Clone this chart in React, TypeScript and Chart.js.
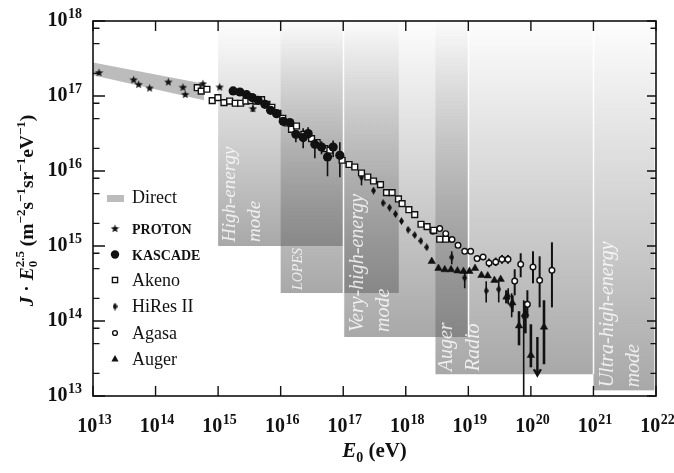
import React, { useEffect, useRef } from 'react';
import { Chart, registerables } from 'chart.js';

Chart.register(...registerables);

const SERIF = '"Liberation Serif", "DejaVu Serif", serif';

// ---- Cosmic-ray spectrum J·E0^2.5 versus primary energy E0 (eV) ----

// Band of direct (balloon / satellite) measurements
const directE = [1e13, 5.93e14];
const directUpper = [2.79e17, 1.46e17];
const directLower = [1.89e17, 8.77e16];

const protonE = [1.25e13, 4.47e13, 5.37e13, 8.05e13, 1.6e14, 2.74e14, 2.98e14, 5.71e14, 1.06e15, 3.6e15];
const protonJ = [2.05e17, 1.65e17, 1.43e17, 1.28e17, 1.54e17, 1.31e17, 1.05e17, 1.46e17, 1.32e17, 6.79e16];
const protonLo = [null, null, null, null, null, null, null, null, null, 6.1e16];
const protonHi = [null, null, null, null, null, null, null, null, null, 7.5e16];

const kascadeE = [1.74e15, 2.23e15, 2.85e15, 3.51e15, 4.37e15, 5.59e15, 6.9e15, 8.6e15, 1.1e16, 1.4e16, 1.75e16, 2.29e16, 2.75e16, 3.52e16, 4.5e16, 5.61e16, 6.9e16, 8.83e16];
const kascadeJ = [1.17e17, 1.13e17, 1.04e17, 9.52e16, 8.77e16, 7.75e16, 6.45e16, 5.82e16, 4.6e16, 4.42e16, 3.08e16, 2.79e16, 3.15e16, 2.27e16, 2.09e16, 1.54e16, 2.09e16, 1.62e16];
const kascadeLo = [null, null, null, null, null, null, null, null, null, null, 2.42e16, 2.01e16, 2.81e16, 1.48e16, 1.67e16, 8.5e15, 1.52e16, 8.24e15];
const kascadeHi = [null, null, null, null, null, null, null, null, null, null, 3.49e16, 3.71e16, 3.83e16, 2.56e16, 2.49e16, 2.2e16, 2.56e16, 2.42e16];

const akenoE = [4.64e14, 5.37e14, 6.62e14, 8.05e14, 9.93e14, 1.24e15, 1.53e15, 1.88e15, 2.29e15, 2.78e15, 3.34e15, 4.02e15, 4.95e15, 6.02e15, 7.23e15, 9.02e15, 1.08e16, 1.26e16, 1.49e16, 1.79e16, 2.35e16, 3.12e16, 3.83e16, 5.08e16, 6.11e16, 9.6e16, 1.24e17, 1.53e17, 1.96e17, 2.47e17, 3.05e17, 3.94e17, 4.92e17, 6.04e17, 7.64e17, 8.73e17, 1.12e18, 1.39e18, 1.75e18, 2.19e18, 2.8e18, 3.49e18, 4.36e18];
const akenoJ = [1.29e17, 1.16e17, 1.23e17, 8.68e16, 9.52e16, 8.17e16, 8.57e16, 8.0e16, 8.0e16, 8.57e16, 8.68e16, 8.57e16, 8.95e16, 7.75e16, 7.07e16, 5.88e16, 5.04e16, 4.37e16, 3.6e16, 3.98e16, 3.08e16, 2.7e16, 2.39e16, 1.99e16, 1.89e16, 1.39e16, 1.22e16, 1.13e16, 9.4e15, 8.32e15, 7.36e15, 6.59e15, 5.15e15, 5.15e15, 4.24e15, 3.67e15, 3.05e15, 2.62e15, 1.95e15, 1.81e15, 1.62e15, 1.23e15, 1.23e15];

const hiresE = [1.96e17, 3.05e17, 4.34e17, 5.5e17, 6.84e17, 8.53e17, 1.09e18, 1.39e18, 1.74e18, 2.16e18, 5.43e18, 8.75e18, 1.93e19, 3.06e19, 4.34e19, 4.93e19, 7.67e19];
const hiresJ = [8.24e15, 5.48e15, 3.74e15, 3.25e15, 2.67e15, 2.15e15, 1.65e15, 1.4e15, 1.17e15, 9.61e14, 7.07e14, 3.77e14, 2.53e14, 2.65e14, 2.13e14, 1.62e14, 1.16e14];
const hiresLo = [6.44e15, null, null, null, null, null, null, null, null, null, 5.7e14, 2.73e14, 1.77e14, 1.77e14, 1.67e14, 1.12e14, 1e13];
const hiresHi = [1.02e16, null, null, null, null, null, null, null, null, null, 8.5e14, 4.74e14, 3.38e14, 3.38e14, 2.73e14, 2.34e14, 1.89e14];

const agasaE = [2.7e18, 3.49e18, 4.36e18, 5.49e18, 6.84e18, 8.75e18, 1.09e19, 1.38e19, 1.72e19, 2.14e19, 2.74e19, 3.45e19, 4.31e19, 5.51e19, 6.87e19, 8.79e19, 1.08e20, 1.38e20, 2.17e20];
const agasaJ = [1.57e15, 1.71e15, 1.46e15, 1.22e15, 1.02e15, 8.5e14, 8.5e14, 6.79e14, 7.13e14, 5.93e14, 6.12e14, 6.65e14, 6.65e14, 3.41e14, 5.7e14, 1.67e14, 5.25e14, 3.49e14, 4.74e14];
const agasaLo = [null, null, null, null, null, null, null, null, null, 5.2e14, 5.4e14, 5.8e14, 5.8e14, 2.2e14, 3.83e14, 1.09e14, 3.18e14, 1.52e14, 1.52e14];
const agasaHi = [null, null, null, null, null, null, null, null, null, 6.8e14, 7.0e14, 7.6e14, 7.6e14, 4.89e14, 8.0e14, 2.57e14, 8.5e14, 7.29e14, 1.12e15];

const augerE = [2.6e18, 3.33e18, 4.2e18, 5.29e18, 6.7e18, 8.36e18, 1.04e19, 1.28e19, 1.62e19, 2.04e19, 2.61e19, 3.29e19, 4.06e19, 5.06e19, 6.46e19, 8.17e19, 1.0e20, 1.62e20];
const augerJ = [6.25e14, 5.04e14, 4.84e14, 4.84e14, 4.67e14, 4.6e14, 4.6e14, 5.04e14, 4.07e14, 4.01e14, 3.49e14, 3.6e14, 2.09e14, 1.75e14, 8.63e13, 1.25e14, 3.49e13, 8.32e13];
const augerLo = [null, null, null, null, null, null, null, null, null, null, null, null, 1.72e14, 1.31e14, 4.74e13, 6.85e13, 2.41e13, 2.65e13];
const augerHi = [null, null, null, null, null, null, null, null, null, null, null, null, 2.57e14, 2.2e14, 1.35e14, 1.83e14, 9.04e13, 1.89e14];
// Auger upper limit (arrow)
const augerLimitE = [1.27e20];
const augerLimitJ = [6.12e13];
const augerLimitTip = [1.89e13];

// Radio detection modes: energy span and lower edge of each shaded block
const modeStart = [1e15, 1e16, 1e17, 2.98e18, 1e21];
const modeEnd = [1e17, 7.73e17, 1e19, 1e21, 9.4e21];
const modeFloor = [1e15, 2.36e14, 6.12e13, 1.95e13, 1.19e13];
const modeLines = [['High-energy', 'mode'], ['LOPES'], ['Very-high-energy', 'mode'], ['Auger', 'Radio'], ['Ultra-high-energy', 'mode']];

const xTickExp = [13, 14, 15, 16, 17, 18, 19, 20, 21, 22];
const yTickExp = [13, 14, 15, 16, 17, 18];
const yMinorMantissa = [2, 5, 8];

const legendLabels = ['Direct', 'PROTON', 'KASCADE', 'Akeno', 'HiRes II', 'Agasa', 'Auger'];

// Label placement inside the shaded blocks: font size, baseline offsets from the left edge
const modeLabelStyle = [
  { size: 19, offsets: [17, 42], lift: 4 },
  { size: 14, offsets: [21], lift: 3 },
  { size: 20, offsets: [20, 46], lift: 5 },
  { size: 20, offsets: [17, 44], lift: 3 },
  { size: 20, offsets: [20, 46], lift: 3 },
];

function pts(xs: number[], ys: number[]) {
  return xs.map((x, i) => ({ x, y: ys[i] }));
}

function makeStar(): HTMLCanvasElement {
  const c = document.createElement('canvas');
  c.width = 9;
  c.height = 9;
  const g = c.getContext('2d')!;
  g.fillStyle = '#111';
  g.beginPath();
  for (let k = 0; k < 10; k++) {
    const r = k % 2 === 0 ? 4.4 : 1.9;
    const a = -Math.PI / 2 + (k * Math.PI) / 5;
    const px = 4.5 + r * Math.cos(a);
    const py = 4.8 + r * Math.sin(a);
    if (k === 0) g.moveTo(px, py);
    else g.lineTo(px, py);
  }
  g.closePath();
  g.fill();
  return c;
}

function makeDiamond(): HTMLCanvasElement {
  const c = document.createElement('canvas');
  c.width = 5;
  c.height = 8;
  const g = c.getContext('2d')!;
  g.fillStyle = '#111';
  g.beginPath();
  g.moveTo(2.5, 0);
  g.lineTo(5, 4);
  g.lineTo(2.5, 8);
  g.lineTo(0, 4);
  g.closePath();
  g.fill();
  return c;
}

export default function App() {
  const ref = useRef<HTMLCanvasElement | null>(null);

  useEffect(() => {
    const canvas = ref.current;
    if (!canvas) return;
    const star = makeStar();
    const diamond = makeDiamond();

    const errorSets = [
      { lo: protonLo, hi: protonHi, xs: protonE, w: 1.5 },
      { lo: kascadeLo, hi: kascadeHi, xs: kascadeE, w: 1.6 },
      { lo: hiresLo, hi: hiresHi, xs: hiresE, w: 1.6 },
      { lo: agasaLo, hi: agasaHi, xs: agasaE, w: 2 },
      { lo: augerLo, hi: augerHi, xs: augerE, w: 2.6 },
    ];

    const backdrop = {
      id: 'backdrop',
      beforeDatasetsDraw(chart: any) {
        const { ctx, chartArea: a } = chart;
        const xs = chart.scales.x;
        const ys = chart.scales.y;
        ctx.save();
        // shaded detection-mode blocks
        for (let i = 0; i < modeStart.length; i++) {
          const x0 = xs.getPixelForValue(modeStart[i]);
          const x1 = xs.getPixelForValue(modeEnd[i]);
          const yb = ys.getPixelForValue(modeFloor[i]);
          const g = ctx.createLinearGradient(0, a.top, 0, yb);
          g.addColorStop(0, 'rgba(100,100,100,0.01)');
          g.addColorStop(1, 'rgba(100,100,100,0.56)');
          ctx.fillStyle = g;
          ctx.fillRect(x0, a.top, x1 - x0, yb - a.top);
        }
        // white seams between neighbouring blocks
        ctx.strokeStyle = 'rgba(255,255,255,0.95)';
        ctx.lineWidth = 1.5;
        const seams = [
          [modeStart[2], modeFloor[2]],
          [modeEnd[2], modeFloor[2]],
          [modeEnd[3], modeFloor[3]],
        ];
        for (const [xv, fv] of seams) {
          const px = Math.round(xs.getPixelForValue(xv)) + 0.5;
          ctx.beginPath();
          ctx.moveTo(px, a.top);
          ctx.lineTo(px, ys.getPixelForValue(fv));
          ctx.stroke();
        }
        // block captions, rotated
        ctx.fillStyle = 'rgba(255,255,255,0.8)';
        ctx.textAlign = 'left';
        ctx.textBaseline = 'alphabetic';
        for (let i = 0; i < modeStart.length; i++) {
          const st = modeLabelStyle[i];
          const x0 = xs.getPixelForValue(modeStart[i]);
          const yb = ys.getPixelForValue(modeFloor[i]);
          ctx.font = `italic ${st.size}px ${SERIF}`;
          modeLines[i].forEach((line, k) => {
            ctx.save();
            ctx.translate(x0 + st.offsets[k], yb - st.lift);
            ctx.rotate(-Math.PI / 2);
            ctx.fillText(line, 0, 0);
            ctx.restore();
          });
        }
        // error bars
        ctx.strokeStyle = '#111';
        ctx.beginPath();
        ctx.rect(a.left, a.top, a.right - a.left, a.bottom - a.top);
        ctx.clip();
        for (const s of errorSets) {
          ctx.lineWidth = s.w;
          for (let i = 0; i < s.xs.length; i++) {
            const lo = s.lo[i];
            const hi = s.hi[i];
            if (lo == null || hi == null) continue;
            const px = xs.getPixelForValue(s.xs[i]);
            ctx.beginPath();
            ctx.moveTo(px, ys.getPixelForValue(hi));
            ctx.lineTo(px, ys.getPixelForValue(lo));
            ctx.stroke();
          }
        }
        // upper limit arrow
        ctx.lineWidth = 2.4;
        for (let i = 0; i < augerLimitE.length; i++) {
          const px = xs.getPixelForValue(augerLimitE[i]);
          const y0 = ys.getPixelForValue(augerLimitJ[i]);
          const y1 = ys.getPixelForValue(augerLimitTip[i]);
          ctx.beginPath();
          ctx.moveTo(px, y0);
          ctx.lineTo(px, y1);
          ctx.moveTo(px - 3.5, y1 - 6);
          ctx.lineTo(px, y1);
          ctx.lineTo(px + 3.5, y1 - 6);
          ctx.stroke();
        }
        ctx.restore();
      },
    };

    const drawPower = (ctx: CanvasRenderingContext2D, exp: number, x: number, y: number, align: string) => {
      ctx.font = `bold 20px ${SERIF}`;
      const wb = ctx.measureText('10').width;
      ctx.font = `bold 14px ${SERIF}`;
      const we = ctx.measureText(String(exp)).width;
      const total = wb + we + 0.5;
      const left = align === 'right' ? x - total : x - total / 2;
      ctx.textAlign = 'left';
      ctx.textBaseline = 'alphabetic';
      ctx.font = `bold 20px ${SERIF}`;
      ctx.fillText('10', left, y);
      ctx.font = `bold 14px ${SERIF}`;
      ctx.fillText(String(exp), left + wb + 0.5, y - 8);
    };

    type Seg = { t: string; font: string; dy?: number; stack?: Seg };
    const drawSegs = (ctx: CanvasRenderingContext2D, segs: Seg[], cx: number, y: number) => {
      const width = (s: Seg) => {
        ctx.font = s.font;
        let w = ctx.measureText(s.t).width;
        if (s.stack) {
          ctx.font = s.stack.font;
          w = Math.max(w, ctx.measureText(s.stack.t).width);
        }
        return w;
      };
      const total = segs.reduce((acc, s) => acc + width(s), 0);
      let x = cx - total / 2;
      ctx.textAlign = 'left';
      ctx.textBaseline = 'alphabetic';
      for (const s of segs) {
        const w = width(s);
        ctx.font = s.font;
        ctx.fillText(s.t, x, y + (s.dy || 0));
        if (s.stack) {
          ctx.font = s.stack.font;
          ctx.fillText(s.stack.t, x, y + (s.stack.dy || 0));
        }
        x += w;
      }
    };

    const overlay = {
      id: 'overlay',
      afterDraw(chart: any) {
        const { ctx, chartArea: a } = chart;
        const xs = chart.scales.x;
        const ys = chart.scales.y;
        ctx.save();
        // frame
        ctx.strokeStyle = '#111';
        ctx.lineWidth = 1.6;
        ctx.strokeRect(a.left, a.top, a.right - a.left, a.bottom - a.top);
        ctx.lineWidth = 1.4;
        ctx.beginPath();
        for (const e of xTickExp) {
          const px = xs.getPixelForValue(10 ** e);
          ctx.moveTo(px, a.bottom);
          ctx.lineTo(px, a.bottom - 10);
          ctx.moveTo(px, a.top);
          ctx.lineTo(px, a.top + 10);
        }
        for (const e of yTickExp) {
          const py = ys.getPixelForValue(10 ** e);
          ctx.moveTo(a.left, py);
          ctx.lineTo(a.left + 12, py);
          ctx.moveTo(a.right, py);
          ctx.lineTo(a.right - 9, py);
          if (e < yTickExp[yTickExp.length - 1]) {
            for (const m of yMinorMantissa) {
              const pm = ys.getPixelForValue(m * 10 ** e);
              ctx.moveTo(a.left, pm);
              ctx.lineTo(a.left + 6.5, pm);
              ctx.moveTo(a.right, pm);
              ctx.lineTo(a.right - 5.5, pm);
            }
          }
        }
        ctx.stroke();

        // tick labels
        ctx.fillStyle = '#111';
        for (const e of xTickExp) {
          drawPower(ctx, e, xs.getPixelForValue(10 ** e) + 1.5, a.bottom + 36, 'center');
        }
        for (const e of yTickExp) {
          drawPower(ctx, e, a.left - 11, ys.getPixelForValue(10 ** e) + 4.5, 'right');
        }

        // axis titles
        const big = `bold 21px ${SERIF}`;
        const bigIt = `italic bold 21px ${SERIF}`;
        drawSegs(ctx, [
          { t: 'E', font: bigIt },
          { t: '0', font: `bold 14px ${SERIF}`, dy: 5 },
          { t: ' (eV)', font: big },
        ], (a.left + a.right) / 2, 456.5);

        const f = `bold 19.5px ${SERIF}`;
        const fi = `italic bold 19.5px ${SERIF}`;
        const fs = `bold 13px ${SERIF}`;
        ctx.save();
        ctx.translate(33, (a.top + a.bottom) / 2 + 2);
        ctx.rotate(-Math.PI / 2);
        drawSegs(ctx, [
          { t: 'J', font: fi },
          { t: ' · ', font: f },
          { t: 'E', font: fi },
          { t: '0', font: fs, dy: 4, stack: { t: '2.5', font: fs, dy: -9.5 } },
          { t: ' (m', font: f },
          { t: '−2', font: fs, dy: -8.5 },
          { t: 's', font: f },
          { t: '−1', font: fs, dy: -8.5 },
          { t: 'sr', font: f },
          { t: '−1', font: fs, dy: -8.5 },
          { t: 'eV', font: f },
          { t: '−1', font: fs, dy: -8.5 },
          { t: ')', font: f },
        ], 0, 0);
        ctx.restore();

        // legend
        const mx = 115;
        const tx = 132;
        const rows = [203, 234, 260, 285.5, 312, 338.5, 364.5];
        ctx.fillStyle = '#bcbcbc';
        ctx.fillRect(107, 195, 17, 7);
        ctx.fillStyle = '#111';
        ctx.textAlign = 'left';
        ctx.textBaseline = 'alphabetic';
        legendLabels.forEach((lab, i) => {
          ctx.font = i === 1 || i === 2 ? `bold 14px ${SERIF}` : `18px ${SERIF}`;
          ctx.fillText(lab, tx, rows[i]);
        });
        const my = (i: number) => rows[i] - 5.5;
        ctx.drawImage(star, mx - 4.5, my(1) - 4.5, 9, 9);
        ctx.beginPath();
        ctx.arc(mx, my(2), 4.2, 0, Math.PI * 2);
        ctx.fill();
        ctx.lineWidth = 1.4;
        ctx.fillStyle = '#fff';
        ctx.fillRect(mx - 2.6, my(3) - 2.6, 5.2, 5.2);
        ctx.strokeRect(mx - 2.6, my(3) - 2.6, 5.2, 5.2);
        ctx.drawImage(diamond, mx - 2.5, my(4) - 4, 5, 8);
        ctx.beginPath();
        ctx.arc(mx, my(5), 2.4, 0, Math.PI * 2);
        ctx.fill();
        ctx.stroke();
        ctx.fillStyle = '#111';
        ctx.beginPath();
        ctx.moveTo(mx, my(6) - 4);
        ctx.lineTo(mx + 3.6, my(6) + 2.5);
        ctx.lineTo(mx - 3.6, my(6) + 2.5);
        ctx.closePath();
        ctx.fill();
        ctx.restore();
      },
    };

    const chart = new Chart(canvas, {
      type: 'scatter',
      data: {
        datasets: [
          { label: 'PROTON', data: pts(protonE, protonJ), pointStyle: star as any, pointRadius: 4, backgroundColor: '#111', borderWidth: 0 },
          { label: 'KASCADE', data: pts(kascadeE, kascadeJ), pointStyle: 'circle', pointRadius: 4.6, backgroundColor: '#111', borderColor: '#111', borderWidth: 0 },
          { label: 'Akeno', data: pts(akenoE, akenoJ), pointStyle: 'rect', pointRadius: 4.1, backgroundColor: '#fff', borderColor: '#111', borderWidth: 1.4 },
          { label: 'HiRes II', data: pts(hiresE, hiresJ), pointStyle: diamond as any, pointRadius: 3, backgroundColor: '#111', borderWidth: 0 },
          { label: 'Agasa', data: pts(agasaE, agasaJ), pointStyle: 'circle', pointRadius: 2.8, backgroundColor: '#fff', borderColor: '#111', borderWidth: 1.4 },
          { label: 'Auger', data: pts(augerE, augerJ), pointStyle: 'triangle', pointRadius: 4.3, backgroundColor: '#111', borderColor: '#111', borderWidth: 0.5 },
          { type: 'line', label: 'Direct', data: pts(directE, directUpper), showLine: true, borderWidth: 0, pointRadius: 0, backgroundColor: '#bcbcbc', fill: '+1' } as any,
          { type: 'line', label: 'Direct lower', data: pts(directE, directLower), showLine: true, borderWidth: 0, pointRadius: 0, backgroundColor: '#bcbcbc', fill: false } as any,
        ],
      },
      options: {
        responsive: false,
        animation: false,
        devicePixelRatio: 1,
        layout: { padding: { left: 93, top: 21, right: 18, bottom: 77 } },
        plugins: { legend: { display: false }, tooltip: { enabled: false } },
        scales: {
          x: { type: 'logarithmic', min: 1e13, max: 1e22, display: false },
          y: { type: 'logarithmic', min: 1e13, max: 1e18, display: false },
        },
      },
      plugins: [backdrop, overlay],
    });
    return () => chart.destroy();
  }, []);

  return (
    <div style={{ position: 'absolute', left: 0, top: 0, width: 674, height: 473, background: '#fff' }}>
      <canvas ref={ref} width={674} height={473} style={{ display: 'block' }} />
    </div>
  );
}
